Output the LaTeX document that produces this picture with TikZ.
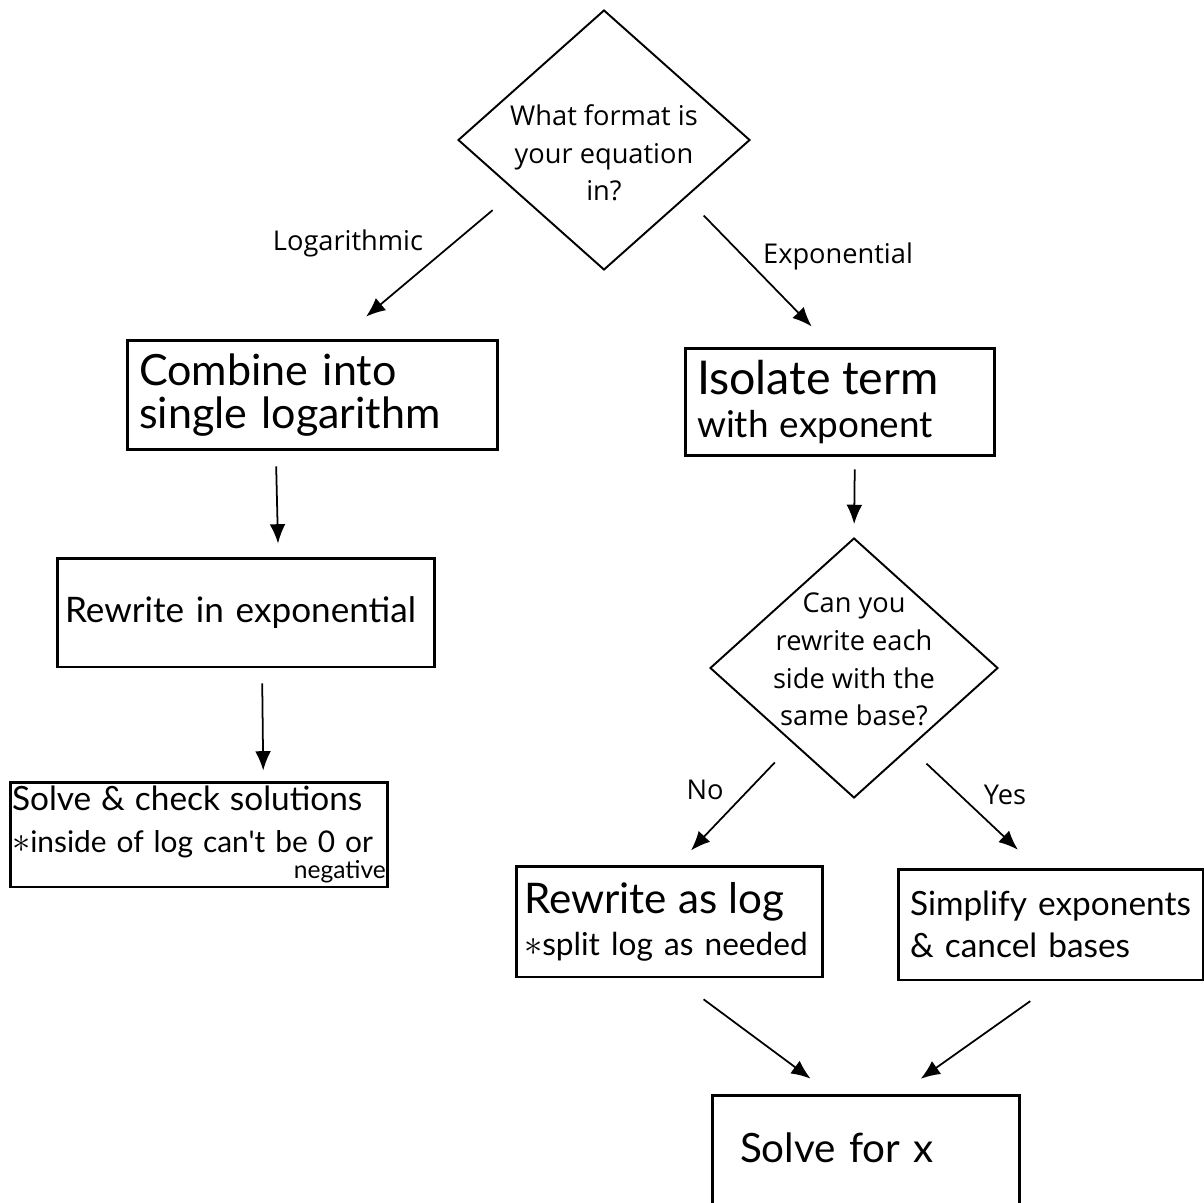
\documentclass[tikz,border=0pt]{standalone}
\usepackage{fontspec}
\setmainfont{Open Sans}
\newfontfamily\handfont{Lato}
\usetikzlibrary{shapes.geometric,arrows.meta}
\newcommand\qlines[2]{\raisebox{#1}[0pt][0pt]{\begin{tabular}{@{}c@{}}#2\end{tabular}}}
\newcommand\hw[2]{{\fontsize{#1}{24}\selectfont #2}}
\newcommand\notemark{\raisebox{0pt}[0pt][0pt]{\fontsize{21}{24}\selectfont$\ast$}}

\begin{document}
\begin{tikzpicture}[x=0.02cm,y=-0.02cm,
  question/.style={diamond,draw,line width=1.1pt,inner sep=0pt,font=\fontsize{15.5}{21.5}\selectfont},
  stepbox/.style={draw,line width=1.7pt,inner xsep=0.24cm,inner ysep=0pt,align=left,font=\handfont\fontsize{19}{24}\selectfont},
  arr/.style={-{Latex[length=11pt,width=9pt]},line width=1pt},
  lbl/.style={font=\fontsize{15.5}{18}\selectfont}]

\useasboundingbox (0,0) rectangle (1204,1203);

\node[question,minimum width=5.84cm,minimum height=5.2cm] (format) at (604,140) {\qlines{-0.44cm}{What format is\\your equation\\in?}};
\node[lbl] (logarithmic) at (348,243) {Logarithmic};
\node[lbl] (exponential) at (838,256) {Exponential};

\node[stepbox,text width=6.94cm,minimum height=2.2cm,font=\handfont\fontsize{24.5}{24}\selectfont] (combine) at (312.5,395) {Combine into\\single logarithm};
\node[stepbox,text width=5.72cm,minimum height=2.16cm] (isolate) at (840,402) {\hw{26.5}{Isolate term}\\\hw{21}{with exponent}};
\node[stepbox,inner xsep=0.16cm,text width=7.24cm,minimum height=2.18cm,font=\handfont\fontsize{20}{24}\selectfont] (rewriteexp) at (246,612.5) {Rewrite in exponential};
\node[stepbox,inner xsep=0.04cm,text width=7.48cm,minimum height=2.1cm,font=\handfont\fontsize{17}{24}\selectfont] (check) at (199,834.5)
  {\hw{19}{Solve \& check solutions}\\\notemark inside of log can't be 0 or\\[-9pt]\hfill\hw{14}{negative}\hspace*{0.55cm}};

\node[question,minimum width=5.76cm,minimum height=5.2cm] (samebase) at (854,668) {\qlines{0pt}{Can you\\rewrite each\\side with the\\same base?}};
\node[lbl] (no) at (705,790) {No};
\node[lbl] (yes) at (1005,795) {Yes};

\node[stepbox,inner xsep=0.16cm,text width=5.82cm,minimum height=2.22cm] (aslog) at (669.5,921.5) {\hw{24}{Rewrite as log}\\\hw{18}{\notemark split log as needed}};
\node[stepbox,text width=5.64cm,minimum height=2.22cm] (simplify) at (1051,924.5) {Simplify exponents\\\& cancel bases};
\node[stepbox,inner xsep=0.56cm,text width=5.04cm,minimum height=2.6cm,font=\handfont\fontsize{23}{24}\selectfont] (solvex) at (866,1160) {\raisebox{-0.04cm}[0pt][0pt]{Solve for x}};

\draw[arr,shorten <=0.58cm,shorten >=0.68cm] (format.210) -- (combine.64);
\draw[arr,shorten <=0.5cm,shorten >=0.56cm] (format.325) -- (isolate.99);
\draw[arr,shorten <=0.3cm,shorten >=0.26cm] (combine.237) -- (rewriteexp.60);
\draw[arr,shorten <=0.3cm,shorten >=0.2cm] (rewriteexp.286) -- (check.40);
\draw[arr,shorten <=0.24cm,shorten >=0.26cm] (isolate.285) -- (samebase.north);
\draw[arr,shorten <=0.52cm,shorten >=0.39cm] (samebase.231) -- (aslog.82);
\draw[arr,shorten <=0.45cm,shorten >=0.52cm] (samebase.305) -- (simplify.104);
\draw[arr,shorten <=0.7cm,shorten >=0.5cm] (aslog.276) -- (solvex.118);
\draw[arr,shorten <=0.68cm,shorten >=0.51cm] (simplify.277) -- (solvex.63);

\end{tikzpicture}
\end{document}
